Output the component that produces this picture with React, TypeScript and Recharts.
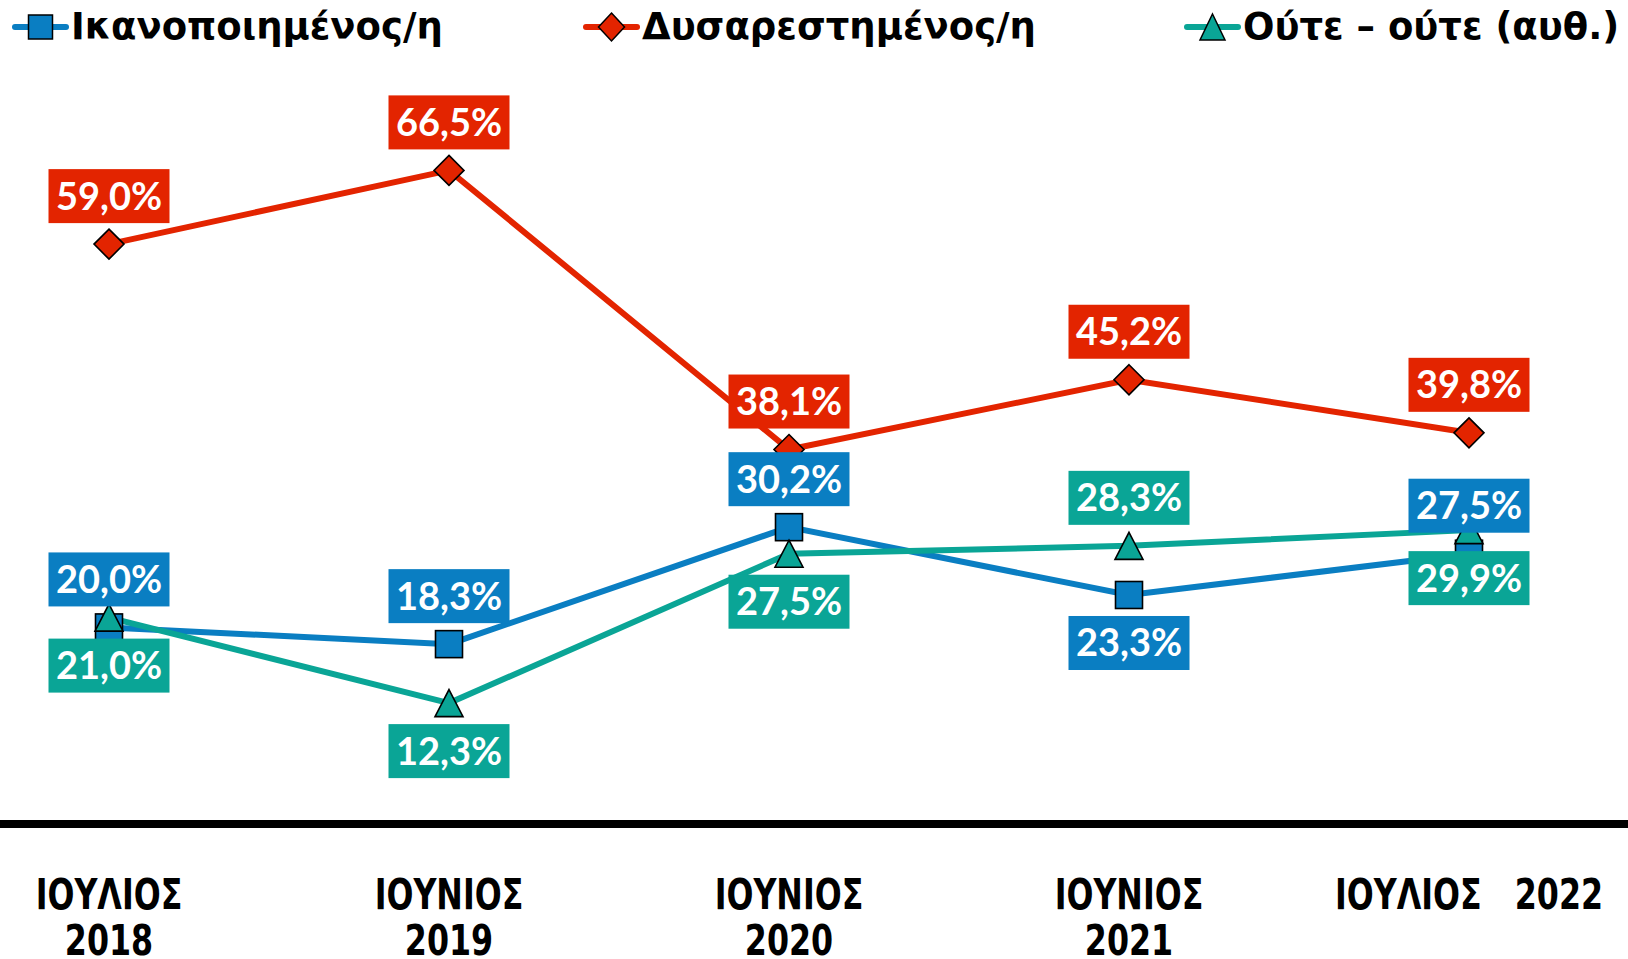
import React from 'react';
import { LineChart, Line, XAxis, YAxis, LabelList, Legend } from 'recharts';

const categories = ['2018', '2019', '2020', '2021', '2022'];
const tickLines: string[][] = [
  ['ΙΟΥΛΙΟΣ', '2018'],
  ['ΙΟΥΝΙΟΣ', '2019'],
  ['ΙΟΥΝΙΟΣ', '2020'],
  ['ΙΟΥΝΙΟΣ', '2021'],
  ['ΙΟΥΛΙΟΣ   2022'],
];
const satisfied = [20.0, 18.3, 30.2, 23.3, 27.5];
const dissatisfied = [59.0, 66.5, 38.1, 45.2, 39.8];
const neither = [21.0, 12.3, 27.5, 28.3, 29.9];

const seriesNames = ['Ικανοποιημένος/η', 'Δυσαρεστημένος/η', 'Ούτε – ούτε (αυθ.)'];

// label placement (style)
const satisfiedSides = ['top', 'top', 'top', 'bottom', 'top'];
const dissatisfiedSides = ['top', 'top', 'top', 'top', 'top'];
const neitherSides = ['bottom', 'bottom', 'bottom', 'top', 'bottom'];

const BLUE = '#0A7EC2';
const RED = '#E32400';
const TEAL = '#0AA596';

const data = categories.map((c, i) => ({
  cat: c,
  sat: satisfied[i],
  dis: dissatisfied[i],
  nei: neither[i],
}));

const W = 1628;
const H = 959;
const GREEK_FONT = "'DejaVu Sans Condensed', 'DejaVu Sans', sans-serif";
const LEGEND_FONT = "'DejaVu Sans', sans-serif";
const LABEL_FONT = "Lato, 'DejaVu Sans', sans-serif";

const fmt = (v: number) => v.toFixed(1).replace('.', ',') + '%';

const SquareDot = (props: any) => {
  const { cx, cy } = props;
  if (cx == null || cy == null) return null;
  const s = 27;
  return <rect x={cx - s / 2} y={cy - s / 2} width={s} height={s} fill={BLUE} stroke="#000" strokeWidth={1.6} />;
};
const DiamondDot = (props: any) => {
  const { cx, cy } = props;
  if (cx == null || cy == null) return null;
  const r = 15;
  return (
    <polygon
      points={`${cx},${cy - r} ${cx + r},${cy} ${cx},${cy + r} ${cx - r},${cy}`}
      fill={RED}
      stroke="#000"
      strokeWidth={1.6}
    />
  );
};
const TriangleDot = (props: any) => {
  const { cx, cy } = props;
  if (cx == null || cy == null) return null;
  const w = 28;
  const h = 27;
  return (
    <polygon
      points={`${cx},${cy - h / 2} ${cx + w / 2},${cy + h / 2} ${cx - w / 2},${cy + h / 2}`}
      fill={TEAL}
      stroke="#000"
      strokeWidth={1.6}
    />
  );
};

const makeLabel = (color: string, sides: string[]) => (props: any) => {
  const { x, y, value, index } = props;
  if (x == null || y == null) return null;
  const bw = 121;
  const bh = 54;
  const off = 48;
  const cy = sides[index] === 'top' ? y - off : y + off;
  return (
    <g>
      <rect x={x - bw / 2} y={cy - bh / 2} width={bw} height={bh} fill={color} />
      <text
        x={x}
        y={cy + 13.5}
        textAnchor="middle"
        fill="#fff"
        fontFamily={LABEL_FONT}
        fontWeight={700}
        fontSize={38}
      >
        {fmt(Number(value))}
      </text>
    </g>
  );
};

const XTick = (props: any) => {
  const { x, y, index } = props;
  const lines = tickLines[index] || [];
  return (
    <g>
      {lines.map((ln, i) => (
        <text
          key={i}
          transform={`translate(${x},${y + 85 + i * 46}) scale(0.84,1)`}
          x={0}
          y={0}
          textAnchor="middle"
          fill="#000"
          fontFamily={GREEK_FONT}
          fontWeight={700}
          fontSize={42}
          style={{ whiteSpace: 'pre' }}
        >
          {ln}
        </text>
      ))}
    </g>
  );
};

const legendLefts = [12, 583, 1184];
const legendColors = [BLUE, RED, TEAL];

const LegendIcon = ({ idx }: { idx: number }) => {
  const color = legendColors[idx];
  return (
    <svg width={57} height={40} style={{ display: 'block' }}>
      <line x1={3} y1={20} x2={54} y2={20} stroke={color} strokeWidth={6} strokeLinecap="round" />
      {idx === 0 && <rect x={16.5} y={8} width={24} height={24} fill={color} stroke="#000" strokeWidth={1.5} />}
      {idx === 1 && (
        <polygon points="28.5,6 41.5,20 28.5,34 15.5,20" fill={color} stroke="#000" strokeWidth={1.5} />
      )}
      {idx === 2 && (
        <polygon points="28.5,7 41,33 16,33" fill={color} stroke="#000" strokeWidth={1.5} />
      )}
    </svg>
  );
};

const renderLegend = () => (
  <div style={{ position: 'relative', width: W, height: 56 }}>
    {seriesNames.map((name, i) => (
      <div
        key={name}
        style={{
          position: 'absolute',
          left: legendLefts[i],
          top: 7,
          display: 'flex',
          alignItems: 'center',
          height: 40,
        }}
      >
        <LegendIcon idx={i} />
        <span
          style={{
            fontFamily: LEGEND_FONT,
            fontWeight: 700,
            fontSize: 37,
            color: '#000',
            marginLeft: 2,
            whiteSpace: 'pre',
            lineHeight: '40px',
          }}
        >
          {name}
        </span>
      </div>
    ))}
  </div>
);

export default function App() {
  return (
    <div style={{ position: 'absolute', left: 0, top: 0, width: W, height: H, background: '#fff' }}>
      <LineChart width={W} height={H} data={data} margin={{ top: 80, right: 0, bottom: 0, left: 0 }}>
        <Legend
          verticalAlign="top"
          align="left"
          content={renderLegend}
          wrapperStyle={{ position: 'absolute', top: 0, left: 0, width: W, height: 56 }}
        />
        <XAxis
          dataKey="cat"
          padding={{ left: 109, right: 159 }}
          axisLine={{ stroke: '#000', strokeWidth: 8 }}
          tickLine={false}
          tickSize={0}
          tickMargin={0}
          height={135}
          interval={0}
          tick={<XTick />}
        />
        <YAxis hide domain={[0, 70]} />
        <Line
          dataKey="sat"
          stroke={BLUE}
          strokeWidth={6}
          dot={<SquareDot />}
          activeDot={false}
          isAnimationActive={false}
        />
        <Line
          dataKey="dis"
          stroke={RED}
          strokeWidth={6}
          dot={<DiamondDot />}
          activeDot={false}
          isAnimationActive={false}
        />
        <Line
          dataKey="nei"
          stroke={TEAL}
          strokeWidth={6}
          dot={<TriangleDot />}
          activeDot={false}
          isAnimationActive={false}
        />
        <Line dataKey="sat" stroke="none" dot={false} activeDot={false} legendType="none" isAnimationActive={false}>
          <LabelList dataKey="sat" content={makeLabel(BLUE, satisfiedSides)} />
        </Line>
        <Line dataKey="dis" stroke="none" dot={false} activeDot={false} legendType="none" isAnimationActive={false}>
          <LabelList dataKey="dis" content={makeLabel(RED, dissatisfiedSides)} />
        </Line>
        <Line dataKey="nei" stroke="none" dot={false} activeDot={false} legendType="none" isAnimationActive={false}>
          <LabelList dataKey="nei" content={makeLabel(TEAL, neitherSides)} />
        </Line>
      </LineChart>
    </div>
  );
}
